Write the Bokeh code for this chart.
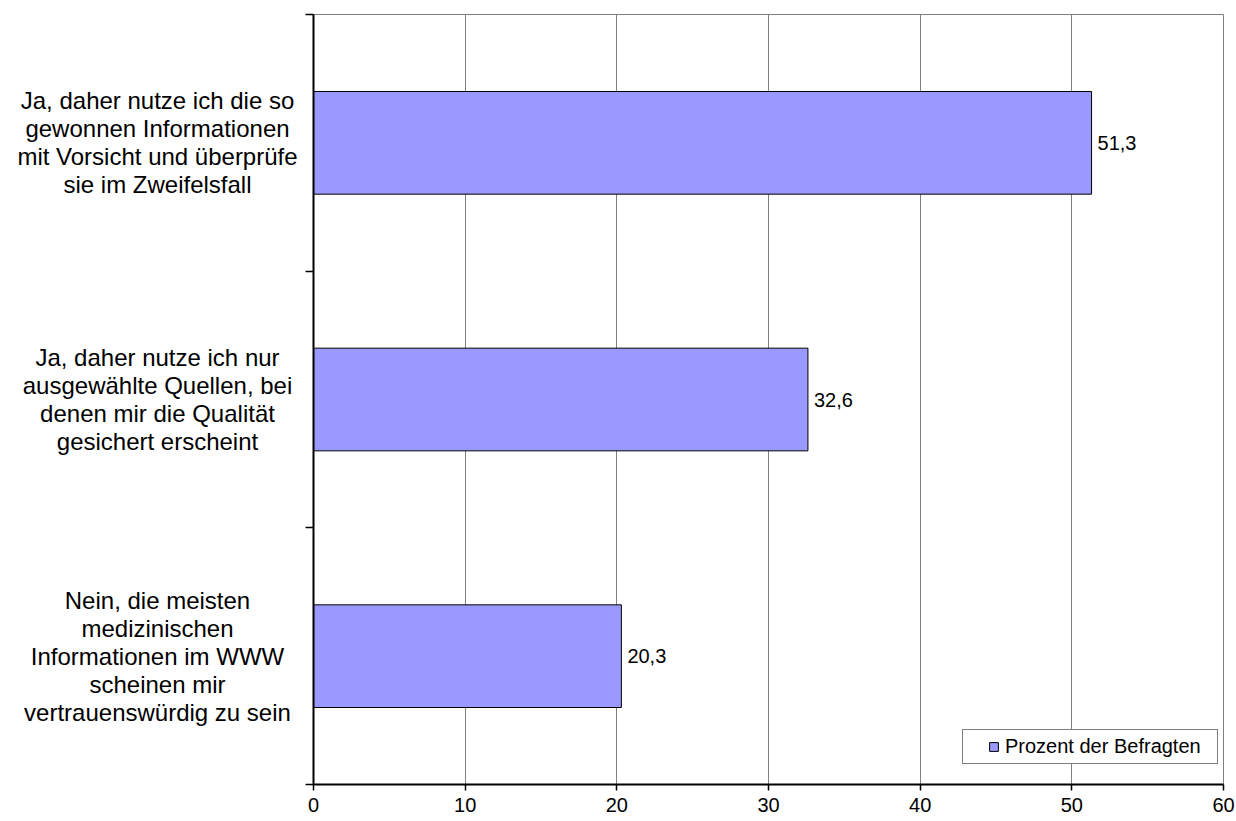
from bokeh.plotting import figure
from bokeh.layouts import row
from bokeh.models import (Range1d, FixedTicker, LabelSet, ColumnDataSource,
                          Legend, LegendItem)
from bokeh.core.properties import value
from bokeh.embed import file_html
from bokeh.resources import INLINE

# Survey answers (top to bottom) and share of respondents in percent
categories = [
    "Ja, daher nutze ich die so\ngewonnen Informationen\nmit Vorsicht und überprüfe\nsie im Zweifelsfall",
    "Ja, daher nutze ich nur\nausgewählte Quellen, bei\ndenen mir die Qualität\ngesichert erscheint",
    "Nein, die meisten\nmedizinischen\nInformationen im WWW\nscheinen mir\nvertrauenswürdig zu sein",
]
values = [51.3, 32.6, 20.3]
x_ticks = [0, 10, 20, 30, 40, 50, 60]
series_name = "Prozent der Befragten"

FONT = "Liberation Sans"
FS = "20px"          # ticks, values, legend
CAT_FS = "24px"      # answer texts
LINE_H = 28          # spacing of the wrapped answer lines, px
TOP, BOTTOM = 14, 37
LEFT_W = 305         # width of the answer-text column
TEXT_CX = 157        # horizontal centre of the answer texts in that column
BAR_COLOR = "#9999FF"

n = len(categories)
ypos = [n - i - 0.5 for i in range(n)]
y_range = Range1d(0, n)

src = ColumnDataSource(dict(
    y=ypos,
    v=values,
    txt=[f"{v:.1f}".replace(".", ",") for v in values],
))

# one row per wrapped line of the answer texts
line_txt, line_y, line_off = [], [], []
for cat, yc in zip(categories, ypos):
    lines = cat.split("\n")
    k = len(lines)
    for j, line in enumerate(lines):
        line_txt.append(line)
        line_y.append(yc)
        line_off.append((j - (k - 1) / 2) * LINE_H)
cat_src = ColumnDataSource(dict(t=line_txt, y=line_y, off=line_off,
                                x=[TEXT_CX] * len(line_txt)))

# left column: answer texts
side = figure(width=LEFT_W, height=821, output_backend="svg",
              toolbar_location=None, x_range=Range1d(0, LEFT_W), y_range=y_range,
              min_border_left=0, min_border_right=0, min_border_top=TOP,
              min_border_bottom=BOTTOM)
side.axis.visible = False
side.grid.visible = False
side.outline_line_color = None
side.background_fill_color = "white"
side.border_fill_color = "white"
side.text(x="x", y="y", text="t", y_offset="off", source=cat_src,
          text_align="center", text_baseline="middle",
          text_font=value(FONT), text_font_size=value(CAT_FS),
          text_color="black")

# main chart
p = figure(width=1236 - LEFT_W, height=821, output_backend="svg",
           toolbar_location=None,
           x_range=Range1d(0, x_ticks[-1]), y_range=y_range,
           min_border_left=313 - LEFT_W, min_border_right=13,
           min_border_top=TOP, min_border_bottom=BOTTOM)
p.background_fill_color = "white"
p.border_fill_color = "white"
p.outline_line_color = "#808080"
p.outline_line_width = 1

# grid: vertical lines only
p.ygrid.visible = False
p.xgrid.ticker = FixedTicker(ticks=x_ticks)
p.xgrid.grid_line_color = "#808080"
p.xgrid.grid_line_width = 1

# x axis
p.xaxis.ticker = FixedTicker(ticks=x_ticks)
p.xaxis.axis_line_color = "black"
p.xaxis.axis_line_width = 2
p.xaxis.major_tick_out = 6
p.xaxis.major_tick_in = 0
p.xaxis.major_tick_line_color = "black"
p.xaxis.major_tick_line_width = 1.5
p.xaxis.minor_tick_line_color = None
p.xaxis.major_label_text_font = FONT
p.xaxis.major_label_text_font_size = FS
p.xaxis.major_label_text_color = "black"
p.xaxis.major_label_standoff = 7

# y axis: boundary ticks between the answer bands, no numeric labels
p.yaxis.ticker = FixedTicker(ticks=list(range(n + 1)))
p.yaxis.axis_line_color = "black"
p.yaxis.axis_line_width = 2
p.yaxis.major_tick_out = 8
p.yaxis.major_tick_in = 0
p.yaxis.major_tick_line_color = "black"
p.yaxis.major_tick_line_width = 1.5
p.yaxis.minor_tick_line_color = None
p.yaxis.major_label_standoff = 0
p.yaxis.major_label_overrides = {i: "" for i in range(n + 1)}

bars = p.hbar(y="y", left=0, right="v", height=0.4, source=src,
              fill_color=BAR_COLOR, line_color="black", line_width=1)

# value labels at the bar ends
p.add_layout(LabelSet(x="v", y="y", text="txt", source=src, x_offset=6,
                      text_baseline="middle", text_align="left",
                      text_font=value(FONT), text_font_size=value(FS),
                      text_color="black"))

# legend; a blank side title indents the swatch from the frame
legend = Legend(items=[LegendItem(label=series_name, renderers=[bars])],
                location=(649, 20), orientation="vertical",
                title=" ", title_location="left", title_text_font_size="13px",
                title_standoff=5,
                glyph_width=11, glyph_height=11, label_standoff=6,
                padding=5, label_width=207, label_height=22,
                label_text_font=FONT, label_text_font_size=FS,
                label_text_color="black",
                border_line_color="black", border_line_width=1,
                background_fill_color="white", background_fill_alpha=1)
p.add_layout(legend)

layout = row(side, p)
open("out.html", "w").write(file_html(layout, INLINE))
